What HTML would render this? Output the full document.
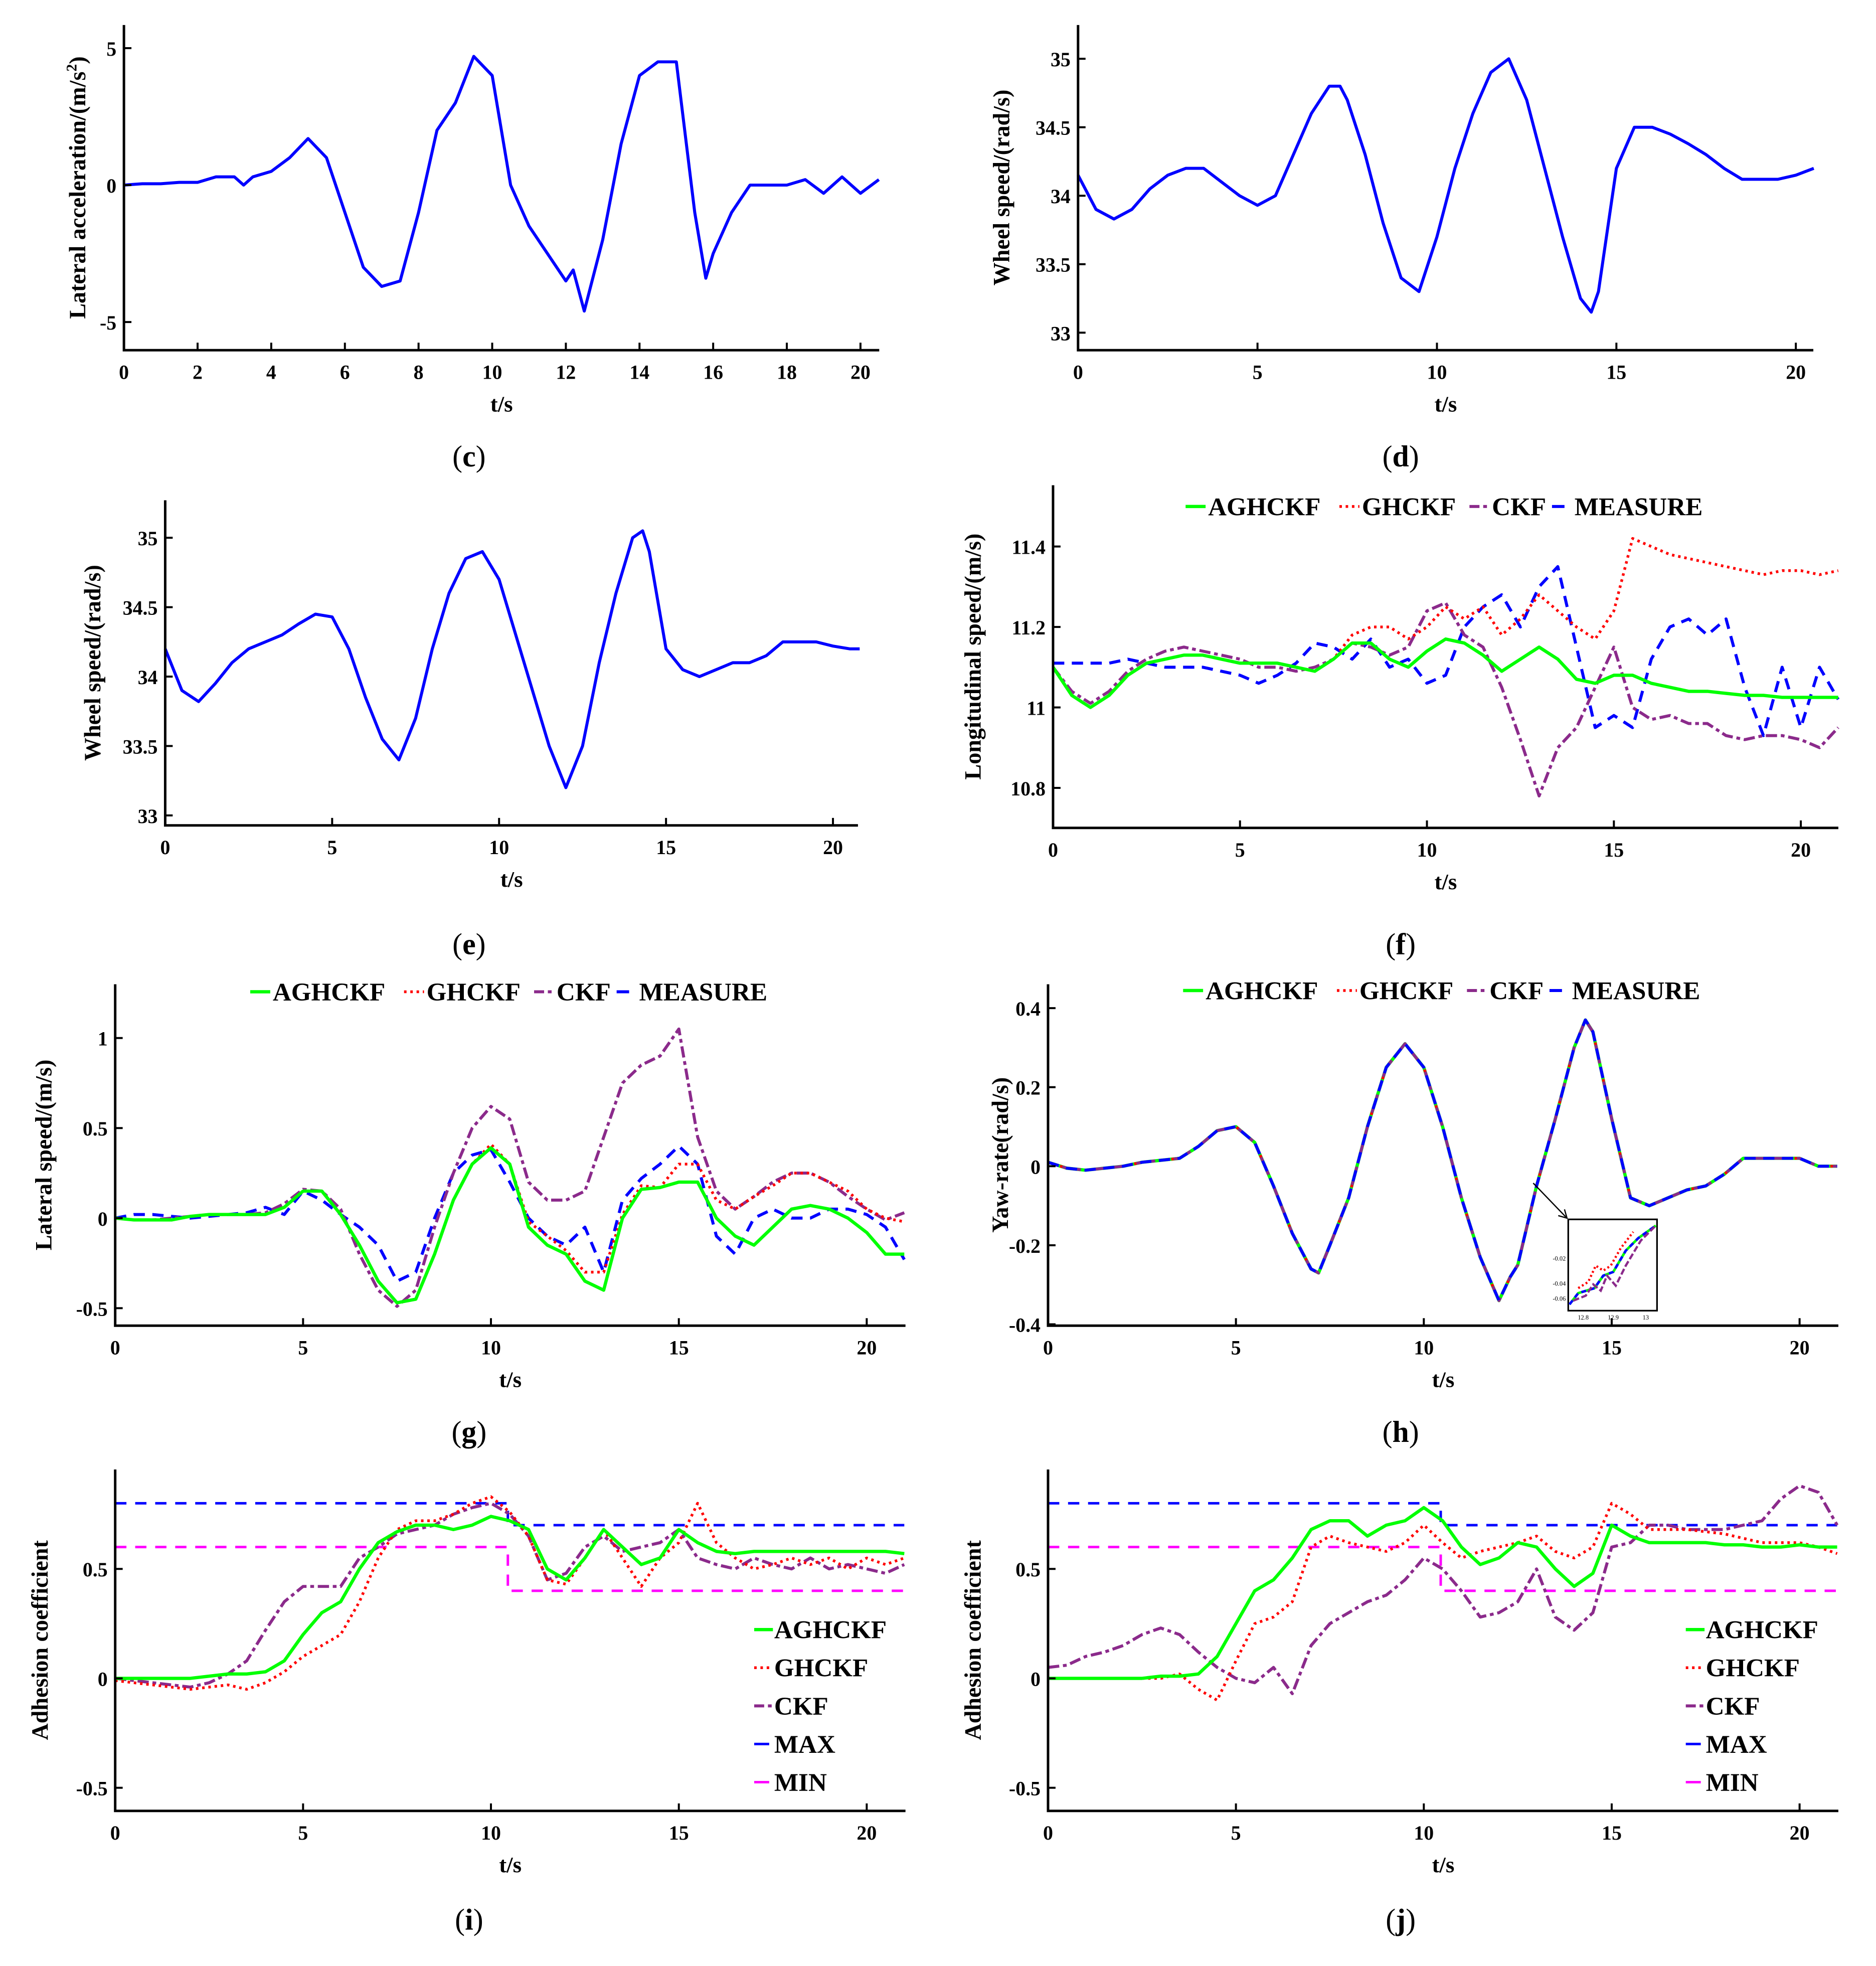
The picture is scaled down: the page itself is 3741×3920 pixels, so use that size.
<!DOCTYPE html>
<html><head><meta charset="utf-8"><style>
html,body{margin:0;padding:0;background:#fff}
svg{display:block}
text{font-family:"Liberation Serif",serif;fill:#000}
.tk{font-size:16px;font-weight:bold}
.yt{font-size:18.5px;font-weight:bold}
.xt{font-size:18px;font-weight:bold}
.sub{font-size:24px}
.lg{font-size:20.5px;font-weight:bold}
</style></head><body>
<svg id="fig" width="3741" height="3920" viewBox="0 0 1500 1572" xmlns="http://www.w3.org/2000/svg"></svg>
<script>
// ---- data (t in s) ----
const cT=[0,0.5,1,1.5,2,2.5,3,3.25,3.5,4,4.5,5,5.5,6,6.5,7,7.5,8,8.5,9,9.5,10,10.5,11,11.5,12,12.2,12.5,13,13.5,14,14.5,15,15.5,15.8,16,16.5,17,17.5,18,18.5,19,19.5,20,20.5];
const cY=[0,0.05,0.05,0.1,0.1,0.3,0.3,0,0.3,0.5,1.0,1.7,1.0,-1.0,-3.0,-3.7,-3.5,-1.0,2.0,3.0,4.7,4.0,0,-1.5,-2.5,-3.5,-3.1,-4.6,-2.0,1.5,4.0,4.5,4.5,-1.0,-3.4,-2.5,-1.0,0,0,0,0.2,-0.3,0.3,-0.3,0.2];
const dT=[0,0.5,1,1.5,2,2.5,3,3.5,4,4.5,5,5.5,6,6.5,7,7.3,7.5,8,8.5,9,9.5,10,10.5,11,11.5,12,12.5,13,13.5,14,14.3,14.5,15,15.5,16,16.5,17,17.5,18,18.5,19,19.5,20,20.5];
const dY=[34.15,33.9,33.83,33.9,34.05,34.15,34.2,34.2,34.1,34.0,33.93,34.0,34.3,34.6,34.8,34.8,34.7,34.3,33.8,33.4,33.3,33.7,34.2,34.6,34.9,35.0,34.7,34.2,33.7,33.25,33.15,33.3,34.2,34.5,34.5,34.45,34.38,34.3,34.2,34.12,34.12,34.12,34.15,34.2];
const eT=[0,0.5,1,1.5,2,2.5,3,3.5,4,4.5,5,5.5,6,6.5,7,7.5,8,8.5,9,9.5,10,10.5,11,11.5,12,12.5,13,13.5,14,14.3,14.5,15,15.5,16,16.5,17,17.5,18,18.5,19,19.5,20,20.5,20.8];
const eY=[34.2,33.9,33.82,33.95,34.1,34.2,34.25,34.3,34.38,34.45,34.43,34.2,33.85,33.55,33.4,33.7,34.2,34.6,34.85,34.9,34.7,34.3,33.9,33.5,33.2,33.5,34.1,34.6,35.0,35.05,34.9,34.2,34.05,34.0,34.05,34.1,34.1,34.15,34.25,34.25,34.25,34.22,34.2,34.2];
const T21=[0,0.5,1,1.5,2,2.5,3,3.5,4,4.5,5,5.5,6,6.5,7,7.5,8,8.5,9,9.5,10,10.5,11,11.5,12,12.5,13,13.5,14,14.5,15,15.5,16,16.5,17,17.5,18,18.5,19,19.5,20,20.5,21];
const fA=[11.1,11.03,11.0,11.03,11.08,11.11,11.12,11.13,11.13,11.12,11.11,11.11,11.11,11.1,11.09,11.12,11.16,11.16,11.12,11.1,11.14,11.17,11.16,11.13,11.09,11.12,11.15,11.12,11.07,11.06,11.08,11.08,11.06,11.05,11.04,11.04,11.035,11.03,11.03,11.025,11.025,11.025,11.025];
const fG=[11.1,11.03,11.0,11.03,11.08,11.11,11.12,11.13,11.13,11.12,11.11,11.11,11.11,11.1,11.09,11.12,11.18,11.2,11.2,11.17,11.2,11.25,11.22,11.25,11.18,11.22,11.28,11.24,11.2,11.17,11.24,11.42,11.4,11.38,11.37,11.36,11.35,11.34,11.33,11.34,11.34,11.33,11.34];
const fC=[11.1,11.04,11.01,11.04,11.09,11.12,11.14,11.15,11.14,11.13,11.12,11.1,11.1,11.09,11.1,11.12,11.16,11.15,11.13,11.15,11.24,11.26,11.18,11.15,11.05,10.92,10.78,10.9,10.95,11.05,11.15,11.0,10.97,10.98,10.96,10.96,10.93,10.92,10.93,10.93,10.92,10.9,10.95];
const fM=[11.11,11.11,11.11,11.11,11.12,11.11,11.1,11.1,11.1,11.09,11.08,11.06,11.08,11.11,11.16,11.15,11.12,11.17,11.1,11.12,11.06,11.08,11.2,11.25,11.28,11.2,11.3,11.35,11.15,10.95,10.98,10.95,11.12,11.2,11.22,11.18,11.22,11.05,10.93,11.1,10.95,11.1,11.02];
const gA=[0,-0.01,-0.01,-0.01,0.01,0.02,0.02,0.02,0.02,0.06,0.15,0.15,0.02,-0.15,-0.35,-0.47,-0.45,-0.2,0.1,0.3,0.39,0.3,-0.05,-0.15,-0.2,-0.35,-0.4,0,0.16,0.17,0.2,0.2,0,-0.1,-0.15,-0.05,0.05,0.07,0.05,0,-0.08,-0.2,-0.2];
const gG=[0,-0.01,-0.01,-0.01,0.01,0.02,0.02,0.02,0.02,0.06,0.15,0.15,0.02,-0.15,-0.35,-0.47,-0.45,-0.2,0.1,0.3,0.41,0.3,-0.02,-0.1,-0.18,-0.3,-0.3,0.02,0.18,0.17,0.3,0.3,0.1,0.05,0.12,0.18,0.25,0.25,0.2,0.15,0.05,0,-0.02];
const gC=[0,-0.01,-0.01,0,0.01,0.02,0.02,0.02,0.03,0.08,0.16,0.15,0.05,-0.2,-0.4,-0.49,-0.4,-0.05,0.25,0.5,0.62,0.55,0.2,0.1,0.1,0.15,0.45,0.75,0.85,0.9,1.05,0.45,0.15,0.05,0.12,0.2,0.25,0.25,0.2,0.12,0.05,-0.01,0.03];
const gM=[0,0.02,0.02,0.01,0,0.01,0.02,0.03,0.06,0.02,0.15,0.1,0.02,-0.05,-0.15,-0.35,-0.3,0,0.25,0.35,0.38,0.2,0,-0.1,-0.15,-0.05,-0.3,0.1,0.22,0.3,0.4,0.3,-0.1,-0.2,0,0.05,0,0,0.05,0.05,0.02,-0.05,-0.23];
const hT=[0,0.5,1,1.5,2,2.5,3,3.5,4,4.5,5,5.5,6,6.5,7,7.2,7.5,8,8.5,9,9.5,10,10.5,11,11.5,12,12.3,12.5,13,13.5,14,14.3,14.5,15,15.5,16,16.5,17,17.5,18,18.5,19,19.5,20,20.5,21];
const hA=[0.01,-0.005,-0.01,-0.005,0,0.01,0.015,0.02,0.05,0.09,0.1,0.06,-0.05,-0.17,-0.26,-0.27,-0.2,-0.08,0.1,0.25,0.31,0.25,0.1,-0.08,-0.23,-0.34,-0.28,-0.25,-0.05,0.12,0.3,0.37,0.34,0.12,-0.08,-0.1,-0.08,-0.06,-0.05,-0.02,0.02,0.02,0.02,0.02,0,0];
const hG=hA.slice(), hC=hA.slice(), hM=hA.slice();
const iA=[0,0,0,0,0,0.01,0.02,0.02,0.03,0.08,0.2,0.3,0.35,0.5,0.62,0.67,0.7,0.7,0.68,0.7,0.74,0.72,0.68,0.5,0.45,0.55,0.68,0.6,0.52,0.55,0.68,0.62,0.58,0.57,0.58,0.58,0.58,0.58,0.58,0.58,0.58,0.58,0.57];
const iG=[-0.01,-0.02,-0.03,-0.04,-0.05,-0.04,-0.03,-0.05,-0.02,0.03,0.1,0.15,0.2,0.35,0.55,0.68,0.72,0.72,0.75,0.8,0.83,0.76,0.65,0.45,0.43,0.55,0.68,0.55,0.42,0.55,0.62,0.8,0.62,0.55,0.5,0.52,0.55,0.52,0.55,0.5,0.55,0.52,0.55];
const iC=[0,-0.01,-0.02,-0.03,-0.04,-0.02,0.02,0.08,0.22,0.35,0.42,0.42,0.42,0.55,0.6,0.66,0.68,0.7,0.75,0.78,0.8,0.75,0.65,0.45,0.48,0.6,0.65,0.58,0.6,0.62,0.68,0.55,0.52,0.5,0.55,0.52,0.5,0.55,0.5,0.52,0.5,0.48,0.52];
const jA=[0,0,0,0,0,0,0.01,0.01,0.02,0.1,0.25,0.4,0.45,0.55,0.68,0.72,0.72,0.65,0.7,0.72,0.78,0.72,0.6,0.52,0.55,0.62,0.6,0.5,0.42,0.48,0.7,0.65,0.62,0.62,0.62,0.62,0.61,0.61,0.6,0.6,0.61,0.6,0.6];
const jG=[0,0,0,0,0,0,0,0.02,-0.05,-0.1,0.08,0.25,0.28,0.35,0.6,0.65,0.62,0.6,0.58,0.62,0.7,0.62,0.55,0.58,0.6,0.62,0.65,0.58,0.55,0.6,0.8,0.75,0.68,0.68,0.68,0.67,0.66,0.64,0.62,0.62,0.62,0.6,0.57];
const jC=[0.05,0.06,0.1,0.12,0.15,0.2,0.23,0.2,0.12,0.05,0,-0.02,0.05,-0.07,0.15,0.25,0.3,0.35,0.38,0.45,0.55,0.5,0.4,0.28,0.3,0.35,0.5,0.28,0.22,0.3,0.6,0.62,0.7,0.7,0.68,0.68,0.68,0.7,0.72,0.82,0.88,0.85,0.7];
const limT=[0,10.45,10.45,21];
const maxY=[0.8,0.8,0.7,0.7];
const minY=[0.6,0.6,0.4,0.4];

// ---- drawing ----
const NS="http://www.w3.org/2000/svg";
const svg=document.getElementById('fig');
function mk(tag,at,parent){const e=document.createElementNS(NS,tag);for(const k in at)e.setAttribute(k,at[k]);(parent||svg).appendChild(e);return e;}
function txt(s,at,cls,parent){const e=mk('text',at,parent);if(cls)e.setAttribute('class',cls);e.textContent=s;return e;}

const STY={
 blue:{stroke:'#0000ff','stroke-width':2.4},
 A:{stroke:'#00ff00','stroke-width':2.6},
 G:{stroke:'#ff0000','stroke-width':2.2,'stroke-dasharray':'2,3'},
 C:{stroke:'#8b2a8b','stroke-width':2.4,'stroke-dasharray':'9,3,3,3'},
 M:{stroke:'#0000ff','stroke-width':2.4,'stroke-dasharray':'9,6'},
 MAX:{stroke:'#0000ff','stroke-width':2,'stroke-dasharray':'9,7'},
 MIN:{stroke:'#ff00ff','stroke-width':2,'stroke-dasharray':'9,7'}
};

function panel(p){
 const g=mk('g',{});
 
 
 const sx=v=>p.x0+(v-p.t0)*p.kx, sy=v=>p.yp0+(v-p.yv0)*p.ky;
 p.series.forEach(s=>{
  let d='';
  s.t.forEach((t,i)=>{d+=(i?'L':'M')+sx(t).toFixed(2)+','+sy(s.y[i]).toFixed(2);});
  const at=Object.assign({d:d,fill:'none','stroke-linejoin':'round'},STY[s.sty]);
  const e=mk('path',at,g);
  
  
 });
 const ax=mk('path',{d:`M${p.x0},${p.top}V${p.bot}H${p.right}`,fill:'none',stroke:'#000','stroke-width':2},g);
 
 
 p.xt.forEach(v=>{const x=sx(v);mk('line',{x1:x,x2:x,y1:p.bot,y2:p.bot-6,stroke:'#000','stroke-width':1.6},g);
  const t=txt(String(v),{x:x,y:p.bot+23,'text-anchor':'middle'},'tk',g);
  
  });
 p.yt.forEach((v,i)=>{const y=sy(v);mk('line',{x1:p.x0,x2:p.x0+6,y1:y,y2:y,stroke:'#000','stroke-width':1.6},g);
  const t=txt(p.ytl[i],{x:p.x0-6,y:y+6,'text-anchor':'end'},'tk',g);
  
  });
 const xl=txt('t/s',{x:(p.x0+p.right)/2,y:p.bot+49,'text-anchor':'middle'},'xt',g);
 
 
 const yl=txt('',{transform:`translate(${p.ylx},${(p.top+p.bot)/2}) rotate(-90)`,'text-anchor':'middle'},'yt',g);
 yl.innerHTML=p.ylab;
 
 
 const sb=txt('',{x:p.subx,y:p.suby,'text-anchor':'middle'},'sub',g);
 sb.innerHTML='(<tspan font-weight="bold">'+p.sub+'</tspan>)';
 
 
 return {g,sx,sy};
}
function hlegend(g,x,y){
 [['A','AGHCKF',103],['G','GHCKF',84],['C','CKF',46],['M','MEASURE',0]].forEach(([k,l,w])=>{
  mk('line',Object.assign({x1:x,x2:x+16,y1:y,y2:y},STY[k],{'stroke-dasharray':k==='M'?'10,20':k==='C'?'8,3,3,3':(STY[k]['stroke-dasharray']||'')}),g);
  const t=txt(l,{x:x+18,y:y+7},'lg',g);
  
  
  x+=18+w+2;
 });
}
function vlegend(g,x,y){
 [['A','AGHCKF'],['G','GHCKF'],['C','CKF'],['MAX','MAX'],['MIN','MIN']].forEach(([k,l],i)=>{
  const yy=y+i*30.5;
  mk('line',Object.assign({x1:x,x2:x+(i>2?12:15),y1:yy,y2:yy},STY[k],{'stroke-dasharray':k==='C'?'8,3,3,3':(k==='G'?'2,3':'')}),g);
  const t=txt(l,{x:x+16,y:yy+7},'lg',g);
  
  
 });
}
const X5=[0,5,10,15,20];
panel({name:'panel-c-lateral-acceleration',x0:99,t0:0,kx:29.45,yp0:148,yv0:0,ky:-21.9,top:20,bot:280,right:703,
 xt:[0,2,4,6,8,10,12,14,16,18,20],yt:[-5,0,5],ytl:['-5','0','5'],ylx:68,
 ylab:'Lateral acceleration/(m/s<tspan dy="-7" font-size="12">2</tspan><tspan dy="7">)</tspan>',sub:'c',subx:375,suby:373,
 series:[{t:cT,y:cY,sty:'blue',name:'lateral-acceleration-line'}]});
panel({name:'panel-d-wheel-speed',x0:862,t0:0,kx:28.7,yp0:266,yv0:33,ky:-109.5,top:20,bot:280,right:1450,
 xt:X5,yt:[33,33.5,34,34.5,35],ytl:['33','33.5','34','34.5','35'],ylx:807,ylab:'Wheel speed/(rad/s)',sub:'d',subx:1120,suby:373,
 series:[{t:dT,y:dY,sty:'blue',name:'wheel-speed-line'}]});
panel({name:'panel-e-wheel-speed',x0:132,t0:0,kx:26.7,yp0:652,yv0:33,ky:-111,top:400,bot:660,right:686,
 xt:X5,yt:[33,33.5,34,34.5,35],ytl:['33','33.5','34','34.5','35'],ylx:80,ylab:'Wheel speed/(rad/s)',sub:'e',subx:375,suby:763,
 series:[{t:eT,y:eY,sty:'blue',name:'wheel-speed-line'}]});
const pf=panel({name:'panel-f-longitudinal-speed',x0:842,t0:0,kx:29.9,yp0:630,yv0:10.8,ky:-321.7,top:388,bot:662,right:1470,
 xt:X5,yt:[10.8,11,11.2,11.4],ytl:['10.8','11','11.2','11.4'],ylx:784,ylab:'Longitudinal speed/(m/s)',sub:'f',subx:1120,suby:763,
 series:[{t:T21,y:fM,sty:'M',name:'measure-line'},{t:T21,y:fC,sty:'C',name:'ckf-line'},{t:T21,y:fG,sty:'G',name:'ghckf-line'},{t:T21,y:fA,sty:'A',name:'aghckf-line'}]});
hlegend(pf.g,948,405);
const pg=panel({name:'panel-g-lateral-speed',x0:92,t0:0,kx:30.05,yp0:974,yv0:0,ky:-144,top:787,bot:1060,right:724,
 xt:X5,yt:[-0.5,0,0.5,1],ytl:['-0.5','0','0.5','1'],ylx:41,ylab:'Lateral speed/(m/s)',sub:'g',subx:375,suby:1153,
 series:[{t:T21,y:gM,sty:'M',name:'measure-line'},{t:T21,y:gC,sty:'C',name:'ckf-line'},{t:T21,y:gG,sty:'G',name:'ghckf-line'},{t:T21,y:gA,sty:'A',name:'aghckf-line'}]});
hlegend(pg.g,200,793);
const ph=panel({name:'panel-h-yaw-rate',x0:838,t0:0,kx:30.05,yp0:932.5,yv0:0,ky:-316,top:787,bot:1060,right:1470,
 xt:X5,yt:[-0.4,-0.2,0,0.2,0.4],ytl:['-0.4','-0.2','0','0.2','0.4'],ylx:806,ylab:'Yaw-rate(rad/s)',sub:'h',subx:1120,suby:1153,
 series:[{t:hT,y:hA,sty:'A',name:'aghckf-line'},{t:hT,y:hG,sty:'G',name:'ghckf-line'},{t:hT,y:hC,sty:'C',name:'ckf-line'},{t:hT,y:hM,sty:'M',name:'measure-line'}]});
hlegend(ph.g,946,792);
const ins=mk('g',{},ph.g);


mk('rect',{x:1254,y:975,width:71,height:73,fill:'#fff',stroke:'#000','stroke-width':1.3},ins);
mk('path',{d:'M1226,946L1252,973M1246,972L1253,974L1251,967',fill:'none',stroke:'#000','stroke-width':1},ins);
mk('path',{d:'M1255,1043L1262,1034L1275,1030L1282,1020L1290,1017L1300,1000L1310,990L1324,980',fill:'none',stroke:'#00ff00','stroke-width':2},ins);
mk('path',{d:'M1255,1043L1262,1034L1275,1030L1282,1020L1290,1017L1300,1000L1310,990L1324,980',fill:'none',stroke:'#0000ff','stroke-width':2,'stroke-dasharray':'4,3'},ins);
mk('path',{d:'M1262,1030L1270,1025L1276,1012L1282,1016L1288,1012L1296,998L1306,985',fill:'none',stroke:'#ff0000','stroke-width':1.8,'stroke-dasharray':'1.5,2'},ins);
mk('path',{d:'M1258,1040L1268,1036L1274,1027L1280,1032L1285,1020L1292,1028L1300,1012L1312,992L1324,980',fill:'none',stroke:'#8b2a8b','stroke-width':1.8,'stroke-dasharray':'5,2'},ins);
[['-0.02',1008],['-0.04',1028],['-0.06',1040]].forEach(([l,y])=>{txt(l,{x:1252,y:y,'text-anchor':'end','font-size':'5'},'',ins);});
[['12.8',1266],['12.9',1290],['13',1316]].forEach(([l,x])=>{txt(l,{x:x,y:1055,'text-anchor':'middle','font-size':'5'},'',ins);});
const pi=panel({name:'panel-i-adhesion-coefficient',x0:92,t0:0,kx:30.05,yp0:1342,yv0:0,ky:-175,top:1175,bot:1448,right:724,
 xt:X5,yt:[-0.5,0,0.5],ytl:['-0.5','0','0.5'],ylx:38,ylab:'Adhesion coefficient',sub:'i',subx:375,suby:1543,
 series:[{t:limT,y:maxY,sty:'MAX',name:'max-line'},{t:limT,y:minY,sty:'MIN',name:'min-line'},{t:T21,y:iC,sty:'C',name:'ckf-line'},{t:T21,y:iG,sty:'G',name:'ghckf-line'},{t:T21,y:iA,sty:'A',name:'aghckf-line'}]});
vlegend(pi.g,603,1303);
const pj=panel({name:'panel-j-adhesion-coefficient',x0:838,t0:0,kx:30.05,yp0:1342,yv0:0,ky:-175,top:1175,bot:1448,right:1470,
 xt:X5,yt:[-0.5,0,0.5],ytl:['-0.5','0','0.5'],ylx:784,ylab:'Adhesion coefficient',sub:'j',subx:1120,suby:1543,
 series:[{t:limT,y:maxY,sty:'MAX',name:'max-line'},{t:limT,y:minY,sty:'MIN',name:'min-line'},{t:T21,y:jC,sty:'C',name:'ckf-line'},{t:T21,y:jG,sty:'G',name:'ghckf-line'},{t:T21,y:jA,sty:'A',name:'aghckf-line'}]});
vlegend(pj.g,1348,1303);
</script>
</body></html>
